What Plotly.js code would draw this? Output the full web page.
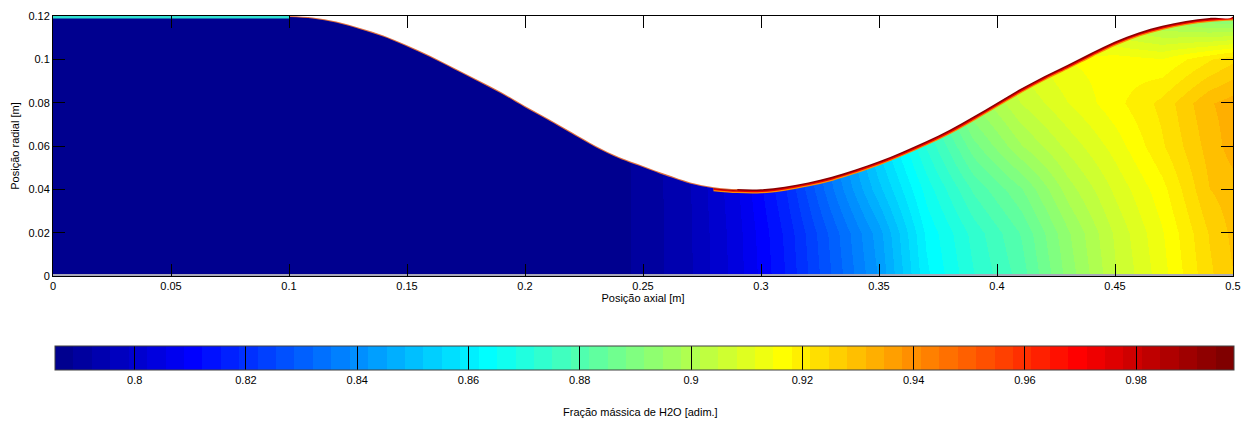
<!DOCTYPE html>
<html>
<head>
<meta charset="utf-8">
<script src="https://cdn.plot.ly/plotly-3.0.1.min.js"></script>
<style>
html,body{margin:0;padding:0;background:#fff;}
#chart{width:1247px;height:424px;}
</style>
</head>
<body>
<div id="chart"></div>
<script>
// ---- data ----
// grid positions (axial [m], radial [m])
const axialPos  = [0, 0.20, 0.23, 0.25, 0.27, 0.29, 0.31, 0.33, 0.35, 0.37, 0.39, 0.41, 0.43, 0.45, 0.47, 0.49, 0.50];
const radialPos = [0, 0.02, 0.04, 0.06, 0.08, 0.10, 0.12];

// H2O mass fraction, one row per radial position
const fracR000 = [0.7858,0.7858,0.7862,0.7900,0.7952,0.8040,0.8155,0.8290,0.8425,0.8610,0.8715,0.8800,0.8930,0.9045,0.9135,0.9240,0.9280];
const fracR002 = [0.7858,0.7858,0.7862,0.7900,0.7953,0.8043,0.8162,0.8300,0.8440,0.8625,0.8730,0.8820,0.8945,0.9055,0.9145,0.9250,0.9290];
const fracR004 = [0.7858,0.7858,0.7862,0.7900,0.7955,0.8050,0.8185,0.8350,0.8510,0.8665,0.8790,0.8880,0.9000,0.9090,0.9170,0.9280,0.9300];
const fracR006 = [0.7858,0.7858,0.7862,0.7900,0.7958,0.8058,0.8200,0.8380,0.8560,0.8720,0.8870,0.8980,0.9060,0.9130,0.9210,0.9295,0.9330];
const fracR008 = [0.7858,0.7858,0.7862,0.7900,0.7960,0.8065,0.8215,0.8400,0.8600,0.8780,0.8950,0.9050,0.9115,0.9170,0.9225,0.9310,0.9330];
const fracR010 = [0.7858,0.7858,0.7862,0.7900,0.7960,0.8070,0.8225,0.8420,0.8630,0.8820,0.9000,0.9100,0.9150,0.9165,0.9150,0.9210,0.9240];
const fracR012 = [0.7858,0.7858,0.7862,0.7900,0.7960,0.8070,0.8230,0.8430,0.8650,0.8850,0.9000,0.9050,0.9050,0.9000,0.8950,0.8900,0.8890];

// nozzle wall profile
const wallX = [0, 0.05, 0.10, 0.11, 0.12, 0.13, 0.14, 0.15, 0.16, 0.17, 0.18, 0.19, 0.20,
               0.21, 0.22, 0.23, 0.24, 0.25, 0.26, 0.27, 0.28, 0.29, 0.30,
               0.31, 0.32, 0.33, 0.34, 0.35, 0.36, 0.37, 0.38, 0.39, 0.40,
               0.41, 0.42, 0.43, 0.44, 0.45, 0.46, 0.47, 0.48, 0.49, 0.50];
const wallR = [0.1200, 0.1200, 0.1200, 0.1193, 0.1175, 0.1145, 0.1110, 0.1065, 0.1015, 0.0960, 0.0905, 0.0848, 0.0785,
               0.0725, 0.0662, 0.0600, 0.0548, 0.0508, 0.0468, 0.0432, 0.0410, 0.0401, 0.0400,
               0.0412, 0.0432, 0.0458, 0.0492, 0.0530, 0.0574, 0.0622, 0.0675, 0.0736, 0.0800,
               0.0864, 0.0922, 0.0975, 0.1030, 0.1082, 0.1124, 0.1155, 0.1177, 0.1191, 0.1198];

// ticks
const xTickVals = [0, 0.05, 0.1, 0.15, 0.2, 0.25, 0.3, 0.35, 0.4, 0.45, 0.5];
const xTickText = ['0','0.05','0.1','0.15','0.2','0.25','0.3','0.35','0.4','0.45','0.5'];
const yTickVals = [0, 0.02, 0.04, 0.06, 0.08, 0.1, 0.12];
const yTickText = ['0','0.02','0.04','0.06','0.08','0.1','0.12'];
const cbTickVals = [0.8, 0.82, 0.84, 0.86, 0.88, 0.9, 0.92, 0.94, 0.96, 0.98];
const cbTickText = ['0.8','0.82','0.84','0.86','0.88','0.9','0.92','0.94','0.96','0.98'];
const colorMin = 0.7857;
const colorMax = 0.9976;

// ---- styling / helpers ----
const h2oFrac = [fracR000, fracR002, fracR004, fracR006, fracR008, fracR010, fracR012];

// MATLAB jet(64) as a stepped colorscale
function jetChannel(k, c) { return Math.max(0, Math.min(1, 1.5 - Math.abs(k - c) / 16)); }
const nColors = 64;
const jetScale = [];
for (let i = 0; i < nColors; i++) {
  const k = i + 1;
  const col = 'rgb(' + Math.round(255 * jetChannel(k, 48)) + ',' +
                       Math.round(255 * jetChannel(k, 32)) + ',' +
                       Math.round(255 * jetChannel(k, 16)) + ')';
  jetScale.push([i / nColors, col]);
  jetScale.push([(i + 1) / nColors, col]);
}

function segment(x0, x1) {
  const xs = [], ys = [];
  for (let i = 0; i < wallX.length; i++) {
    if (wallX[i] >= x0 && wallX[i] <= x1) { xs.push(wallX[i]); ys.push(wallR[i]); }
  }
  return {xs, ys};
}
const conv = segment(0.10, 0.29);
const divg = segment(0.28, 0.50);
const inlet = segment(0, 0.10);
const outer = segment(0.10, 0.50);
const maskX = outer.xs.concat([outer.xs[outer.xs.length - 1], outer.xs[0]]);
const maskY = outer.ys.concat([0.13, 0.13]);

const fontFam = 'Liberation Sans, Arial, Helvetica, sans-serif';

const traces = [
  {
    type: 'heatmap',
    x: axialPos, y: radialPos, z: h2oFrac,
    zsmooth: 'best',
    colorscale: jetScale,
    zmin: colorMin, zmax: colorMax,
    hoverinfo: 'skip',
    colorbar: {
      orientation: 'h',
      x: 0.50136, xanchor: 'center', xpad: 0,
      y: -0.2692, yanchor: 'top', ypad: 0,
      len: 1179, lenmode: 'pixels',
      thickness: 24, thicknessmode: 'pixels',
      outlinewidth: 1, outlinecolor: '#404040',
      tickmode: 'array', tickvals: cbTickVals, ticktext: cbTickText,
      ticks: 'inside', ticklen: 24, tickcolor: '#000', tickwidth: 1,
      tickfont: {family: fontFam, size: 11, color: '#000'}
    }
  },
  // boundary layer along the diverging wall
  {type: 'scatter', mode: 'lines', x: divg.xs, y: divg.ys, hoverinfo: 'skip', showlegend: false,
   line: {color: '#ff8c00', width: 8, shape: 'spline'}},
  {type: 'scatter', mode: 'lines', x: divg.xs, y: divg.ys, hoverinfo: 'skip', showlegend: false,
   line: {color: '#e80000', width: 5.5, shape: 'spline'}},
  {type: 'scatter', mode: 'lines', x: divg.xs, y: divg.ys, hoverinfo: 'skip', showlegend: false,
   line: {color: '#8a0000', width: 3, shape: 'spline'}},
  // thin layer along converging wall
  {type: 'scatter', mode: 'lines', x: conv.xs, y: conv.ys, hoverinfo: 'skip', showlegend: false,
   line: {color: '#e07040', width: 2.2, shape: 'spline'}},
  // white region outside the nozzle
  {type: 'scatter', mode: 'lines', x: maskX, y: maskY, fill: 'toself', fillcolor: '#ffffff',
   hoverinfo: 'skip', showlegend: false, line: {color: 'rgba(0,0,0,0)', width: 0, shape: 'spline'}},
  // thin layer at top wall of inlet
  {type: 'scatter', mode: 'lines', x: inlet.xs, y: inlet.ys, hoverinfo: 'skip', showlegend: false,
   line: {color: '#30e0d0', width: 5}},
  // light line along the axis of symmetry
  {type: 'scatter', mode: 'lines', x: [axialPos[0], axialPos[axialPos.length - 1]], y: [radialPos[0], radialPos[0]],
   hoverinfo: 'skip', showlegend: false, line: {color: '#a8a8b8', width: 4}}
];

const layout = {
  width: 1247, height: 424,
  margin: {l: 53, r: 14, t: 16, b: 148},
  paper_bgcolor: '#fff', plot_bgcolor: '#fff',
  showlegend: false,
  font: {family: fontFam, size: 11, color: '#000'},
  xaxis: {
    range: [0, 0.5], tickmode: 'array', tickvals: xTickVals, ticktext: xTickText,
    ticks: 'inside', ticklen: 12, tickcolor: '#000', tickwidth: 1,
    showline: true, linecolor: '#000', linewidth: 1, mirror: 'allticks',
    showgrid: false, zeroline: false,
    tickfont: {family: fontFam, size: 11, color: '#000'},
    title: {text: 'Posição axial [m]', standoff: 3, font: {family: fontFam, size: 11, color: '#000'}}
  },
  yaxis: {
    range: [0, 0.12], tickmode: 'array', tickvals: yTickVals, ticktext: yTickText,
    ticks: 'inside', ticklen: 12, tickcolor: '#000', tickwidth: 1,
    showline: true, linecolor: '#000', linewidth: 1, mirror: 'allticks',
    showgrid: false, zeroline: false,
    tickfont: {family: fontFam, size: 11, color: '#000'},
    title: {text: 'Posição radial [m]', standoff: 6, font: {family: fontFam, size: 11, color: '#000'}}
  },
  annotations: [{
    text: 'Fração mássica de H2O [adim.]',
    xref: 'paper', yref: 'paper', x: 0.498, y: -0.523,
    xanchor: 'center', yanchor: 'middle', showarrow: false,
    font: {family: fontFam, size: 11, color: '#000'}
  }]
};

Plotly.newPlot('chart', traces, layout, {staticPlot: true, displayModeBar: false});
</script>
</body>
</html>
